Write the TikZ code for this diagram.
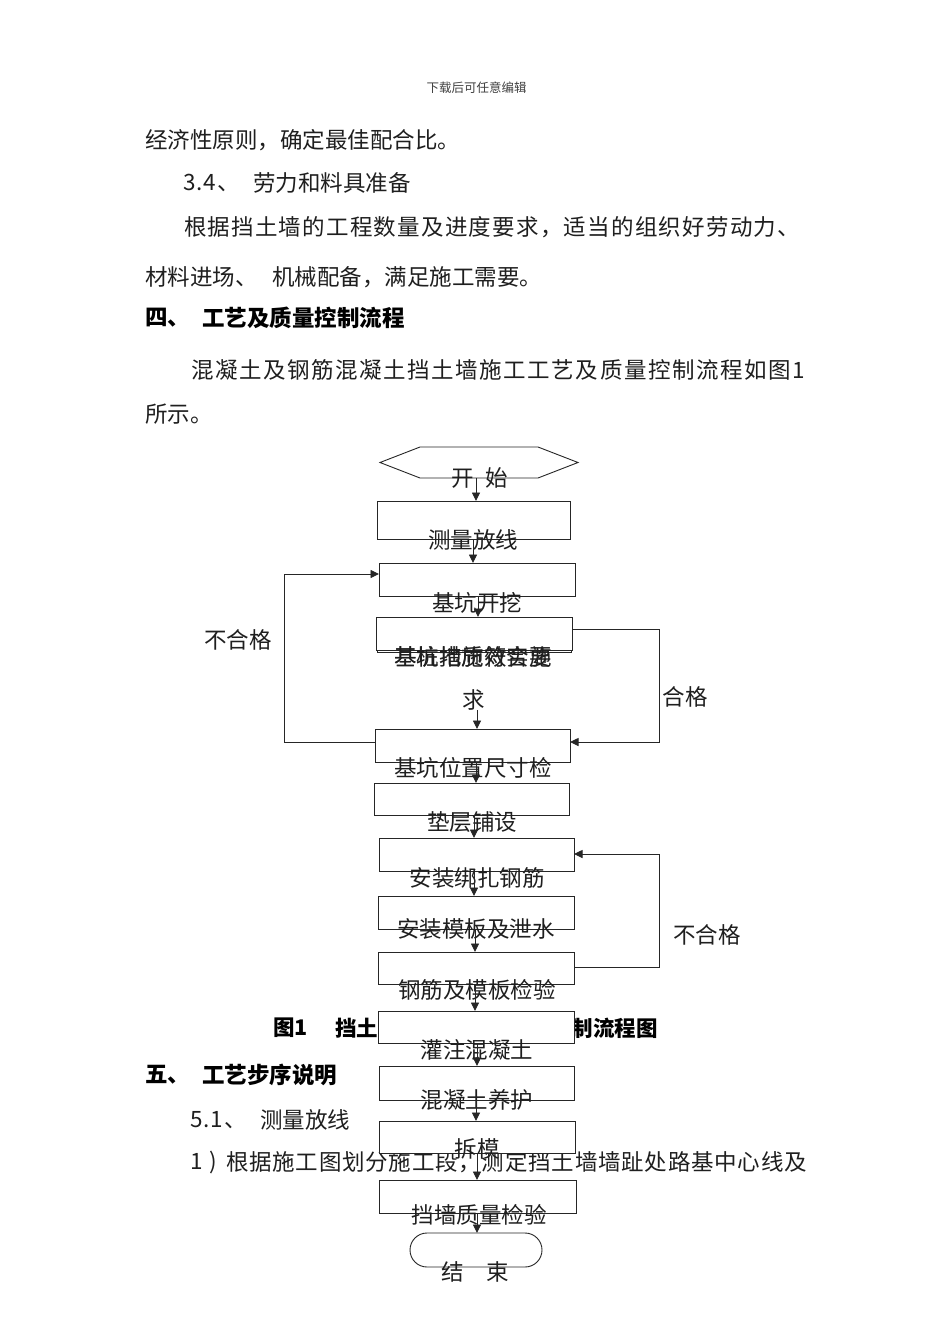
\documentclass[tikz,border=0pt]{standalone}
\usepackage{fontspec}
\setmainfont{Noto Sans CJK SC}
\usetikzlibrary{arrows.meta}
\def\spreadA#1{#1\spreadB}
\def\spreadB#1{\ifx#1\relax\else\hfil#1\expandafter\spreadB\fi}
\newcommand\fitline[2]{\hbox to #1{\spreadA #2\relax}}
\tikzset{
  every node/.style={inner sep=0pt, outer sep=0pt},
  txt/.style={font=\fontsize{22.5}{27}\selectfont, text=black!88},
  hd/.style={font=\fontsize{22.5}{27}\selectfont\bfseries, text=black},
  captxt/.style={font=\fontsize{21.5}{26}\selectfont\bfseries, text=black},
  lbl/.style={font=\fontsize{22.5}{27}\selectfont, text=black!88},
  box/.style={draw=black!85, line width=0.9pt, fill=white, rectangle},
  arr/.style={draw=black!85, line width=0.9pt, -{Triangle[length=8.5pt,width=8pt]}},
  ln/.style={draw=black!85, line width=0.9pt},
}
\begin{document}
\begin{tikzpicture}[x=1pt,y=-1pt]
\fill[white] (0,0) rectangle (950,1344);
\useasboundingbox (0,0) rectangle (950,1344);
% ---------- page text ----------
\node[font=\fontsize{12.5}{14}\selectfont, text=black!75] (hdr) at (476.5,88) {下载后可任意编辑};
\node[txt, anchor=west] (p1) at (145,140) {经济性原则，确定最佳配合比。};
\node[txt, anchor=west] (p2a) at (183,183) {\fitline{57pt}{3.4、}};
\node[txt, anchor=west] (p2b) at (253,183) {劳力和料具准备};
\node[txt, anchor=west] (p3) at (184,227) {\fitline{616pt}{根据挡土墙的工程数量及进度要求，适当的组织好劳动力、}};
\node[txt, anchor=west] (p4a) at (145,277) {材料进场、};
\node[txt, anchor=west] (p4b) at (272,277) {机械配备，满足施工需要。};
\node[hd, anchor=west] (h4a) at (145,318) {四、};
\node[hd, anchor=west] (h4b) at (202,318) {工艺及质量控制流程};
\node[txt, anchor=west] (p5) at (191,370) {\fitline{614pt}{混凝土及钢筋混凝土挡土墙施工工艺及质量控制流程如图1}};
\node[txt, anchor=west] (p6) at (145,414) {所示。};
\node[captxt, anchor=west] (c1) at (273,1028) {图1};
\node[captxt, anchor=west] (c2) at (335,1028) {挡土墙施工工艺及质量控制流程图};
\node[hd, anchor=west] (h5a) at (145,1075) {五、};
\node[hd, anchor=west] (h5b) at (202,1075) {工艺步序说明};
\node[txt, anchor=west] (p7a) at (190,1120) {\fitline{57pt}{5.1、}};
\node[txt, anchor=west] (p7b) at (260,1120) {测量放线};
\node[txt, anchor=west] (p8a) at (190,1162) {\fitline{27pt}{1)}};
\node[txt, anchor=west] (p8b) at (226,1162) {\fitline{581pt}{根据施工图划分施工段，测定挡土墙墙趾处路基中心线及}};
% ---------- flowchart shapes ----------
\node[minimum width=198pt, minimum height=31pt] (hex) at (479,462.5) {};
\draw[ln, fill=white] (hex.west) -- ([xshift=40pt]hex.north west) -- ([xshift=-40pt]hex.north east)
  -- (hex.east) -- ([xshift=-40pt]hex.south east) -- ([xshift=40pt]hex.south west) -- cycle;
\node[box, minimum width=193pt, minimum height=38pt] (b1) at (473.5,520) {};
\node[box, minimum width=196pt, minimum height=33pt] (b2) at (477,579.5) {};
\node[box, minimum width=194pt, minimum height=32pt] (b3x) at (474,636) {};
\node[box, minimum width=196pt, minimum height=33pt] (b3) at (474,633.5) {};
\node[box, minimum width=195pt, minimum height=33pt] (b4) at (472.5,745.5) {};
\node[box, minimum width=195pt, minimum height=32pt] (b5) at (471.5,799) {};
\node[box, minimum width=195pt, minimum height=33pt] (b6) at (476.5,854.5) {};
\node[box, minimum width=196pt, minimum height=33pt] (b7) at (476,912.5) {};
\node[box, minimum width=196pt, minimum height=32pt] (b8) at (476,968) {};
\node[box, minimum width=196pt, minimum height=32pt] (b9) at (476,1027) {};
\node[box, minimum width=195pt, minimum height=34pt] (b10) at (476.5,1083) {};
\node[box, minimum width=196pt, minimum height=32pt] (b11) at (477,1137) {};
\node[box, minimum width=197pt, minimum height=33pt] (b12) at (477.5,1196.5) {};
\node[box, rounded corners=17pt, minimum width=132pt, minimum height=34pt] (e) at (476,1250) {};
% ---------- flowchart labels ----------
\node[lbl] (t0) at (480,478) {开\hspace{11.5pt}始};
\node[lbl] (t1) at (473,540) {测量放线};
\node[lbl] (t2) at (477,603) {基坑开挖};
\node[lbl] (t3) at (473,657) {基坑地质符合要};
\node[lbl] (t3o) at (473,657) {基桩措施效实施};
\node[lbl] (t3b) at (474,700) {求};
\node[lbl] (t4) at (473,768) {基坑位置尺寸检};
\node[lbl] (t5) at (472,822) {垫层铺设};
\node[lbl] (t6) at (477,878) {安装绑扎钢筋};
\node[lbl] (t7) at (476,929) {安装模板及泄水};
\node[lbl] (t8) at (477,990) {钢筋及模板检验};
\node[lbl] (t9) at (477,1050) {灌注混凝土};
\node[lbl] (t10) at (477,1100) {混凝土养护};
\node[lbl] (t11) at (477,1149) {拆模};
\node[lbl] (t12) at (479,1215) {挡墙质量检验};
\node[lbl] (t13) at (475,1272) {结\hspace{23pt}束};
\node[lbl] (n1) at (238,640) {不合格};
\node[lbl] (n2) at (685,697) {合格};
\node[lbl] (n3) at (707,935) {不合格};
% ---------- connectors ----------
\coordinate (x476) at (476,0);
\coordinate (x473) at (473,0);
\coordinate (x478) at (478,0);
\coordinate (x477) at (477,0);
\coordinate (x474) at (474,0);
\coordinate (x475) at (475,0);
\draw[arr] (hex.south -| x476) -- (b1.north -| x476);
\draw[arr] (b1.south -| x473) -- (b2.north -| x473);
\draw[arr] (b2.south -| x478) -- (b3.north -| x478);
\draw[arr] (t3b.south -| x477) -- (b4.north -| x477);
\draw[arr] (b4.south -| x476) -- (b5.north -| x476);
\draw[arr] (b5.south -| x474) -- (b6.north -| x474);
\draw[arr] (b6.south -| x474) -- (b7.north -| x474);
\draw[arr] (b7.south -| x475) -- (b8.north -| x475);
\draw[arr] (b8.south -| x475) -- (b9.north -| x475);
\draw[arr] (b9.south -| x477) -- (b10.north -| x477);
\draw[arr] (b10.south -| x476) -- (b11.north -| x476);
\draw[arr] (b11.south -| x477) -- (b12.north -| x477);
\draw[arr] (b12.south -| x477) -- (e.north -| x477);
\coordinate (lA) at (284,742);
\coordinate (lB) at (284,574);
\draw[arr] (b4.west |- lA) -- (lA) -- (lB) -- (b2.west |- lB);
\coordinate (rA) at (659,629);
\coordinate (rB) at (659,742);
\draw[arr] (b3.east |- rA) -- (rA) -- (rB) -- (b4.east |- rB);
\coordinate (rC) at (659,967);
\coordinate (rD) at (659,854);
\draw[arr] (b8.east |- rC) -- (rC) -- (rD) -- (b6.east |- rD);
\end{tikzpicture}
\end{document}
